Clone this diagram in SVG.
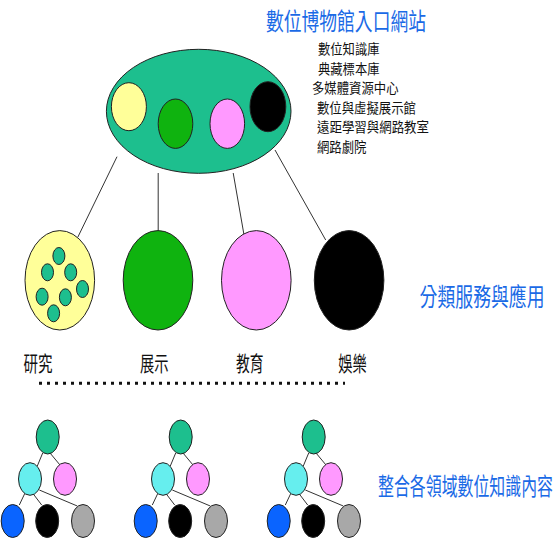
<svg xmlns="http://www.w3.org/2000/svg" width="557" height="541" viewBox="0 0 557 541">
<style>
.o{stroke:#222;stroke-width:1}
.ln{stroke:#333;stroke-width:1;fill:none}
.t{font-family:"Noto Sans CJK TC","Noto Sans CJK SC",sans-serif}
.blue{fill:#1a6ae6}
.blk{fill:#111}
.teal{fill:#1dbf8e}
.yel{fill:#ffff99}
.grn{fill:#0fb30f}
.pnk{fill:#ff99ff}
.bk{fill:#000}
.cyn{fill:#66eeee}
.bl{fill:#0a64ff}
.gry{fill:#a8a8a8}
</style>
<defs>
<g id="tree">
<g class="ln">
<line x1="42.7" y1="453" x2="37.3" y2="466"/>
<line x1="50" y1="453" x2="60" y2="465"/>
<line x1="25" y1="493" x2="19.3" y2="505"/>
<line x1="33.3" y1="494" x2="41.7" y2="505"/>
<line x1="39.3" y1="490" x2="77.3" y2="506"/>
</g>
<ellipse class="o teal" cx="47.7" cy="437" rx="11.5" ry="17"/>
<ellipse class="o cyn" cx="30" cy="479" rx="11.5" ry="16.3"/>
<ellipse class="o pnk" cx="65" cy="479" rx="11.5" ry="16.3"/>
<ellipse class="o bl" cx="12.7" cy="521" rx="11.5" ry="16.5"/>
<ellipse class="o bk" cx="47.2" cy="521" rx="11.5" ry="16.5"/>
<ellipse class="o gry" cx="83" cy="521" rx="11.5" ry="16.5"/>
</g>
</defs>
<rect width="557" height="541" fill="#fff"/>

<g id="connectors" class="ln">
<line x1="117" y1="156.7" x2="77.9" y2="237"/>
<line x1="158.2" y1="173" x2="158.2" y2="231"/>
<line x1="233.2" y1="173" x2="244.6" y2="238.3"/>
<line x1="275" y1="150" x2="325.7" y2="240"/>
</g>

<g id="portal">
<ellipse class="o teal" cx="198.7" cy="111.3" rx="92.3" ry="62"/>
<ellipse class="o yel" cx="128.9" cy="106.7" rx="17.5" ry="24"/>
<ellipse class="o grn" cx="175.5" cy="123.7" rx="17.3" ry="24.7"/>
<ellipse class="o pnk" cx="227.3" cy="123.7" rx="17.3" ry="24.7"/>
<ellipse class="o bk" cx="267.9" cy="106.7" rx="17.9" ry="25"/>
</g>

<g id="portal-title">
<text class="t blue" transform="translate(266,30) scale(0.741,1)" font-size="24">數位博物館入口網站</text>
</g>

<g id="portal-list" class="t blk" font-size="13.5">
<text x="318" y="54" textLength="61.5" lengthAdjust="spacingAndGlyphs">數位知識庫</text>
<text x="318" y="73.5" textLength="61.5" lengthAdjust="spacingAndGlyphs">典藏標本庫</text>
<text x="312" y="93" textLength="86.5" lengthAdjust="spacingAndGlyphs">多媒體資源中心</text>
<text x="317" y="112.5" textLength="99" lengthAdjust="spacingAndGlyphs">數位與虛擬展示館</text>
<text x="317" y="132" textLength="112" lengthAdjust="spacingAndGlyphs">遠距學習與網路教室</text>
<text x="317" y="151.5" textLength="49.5" lengthAdjust="spacingAndGlyphs">網路劇院</text>
</g>

<g id="research">
<ellipse class="o yel" cx="59.8" cy="280.3" rx="34.8" ry="49.7"/>
<ellipse class="o teal" cx="58.9" cy="256" rx="6" ry="8.5"/>
<ellipse class="o teal" cx="47.5" cy="272.3" rx="6" ry="8.5"/>
<ellipse class="o teal" cx="70.7" cy="272.3" rx="6" ry="8.5"/>
<ellipse class="o teal" cx="82.5" cy="289" rx="6" ry="8.5"/>
<ellipse class="o teal" cx="42.1" cy="296.7" rx="6" ry="8.5"/>
<ellipse class="o teal" cx="65.4" cy="297.3" rx="6" ry="8.5"/>
<ellipse class="o teal" cx="53.6" cy="313.3" rx="6" ry="8.5"/>
<text class="t blk" x="23.5" y="371" font-size="21" textLength="29" lengthAdjust="spacingAndGlyphs">研究</text>
</g>

<g id="exhibit">
<ellipse class="o grn" cx="158" cy="280.3" rx="34.8" ry="49.7"/>
<text class="t blk" x="140" y="371" font-size="21" textLength="28.5" lengthAdjust="spacingAndGlyphs">展示</text>
</g>

<g id="education">
<ellipse class="o pnk" cx="256.3" cy="280.3" rx="34.8" ry="49.7"/>
<text class="t blk" x="236" y="371" font-size="21" textLength="27.5" lengthAdjust="spacingAndGlyphs">教育</text>
</g>

<g id="entertainment">
<ellipse class="o bk" cx="349.1" cy="280.3" rx="34.8" ry="49.7"/>
<text class="t blk" x="338.3" y="371" font-size="21" textLength="28.5" lengthAdjust="spacingAndGlyphs">娛樂</text>
</g>

<g id="services-label">
<text class="t blue" transform="translate(419.6,306) scale(0.714,1)" font-size="25">分類服務與應用</text>
</g>

<g id="divider">
<line x1="39" y1="383.3" x2="345" y2="383.3" stroke="#111" stroke-width="3" stroke-dasharray="3 5"/>
</g>

<g id="tree1"><use href="#tree"/></g>
<g id="tree2"><use href="#tree" x="133"/></g>
<g id="tree3"><use href="#tree" x="266"/></g>

<g id="knowledge-label">
<text class="t blue" transform="translate(378,495) scale(0.663,1)" font-size="24">整合各領域數位知識內容</text>
</g>
</svg>
